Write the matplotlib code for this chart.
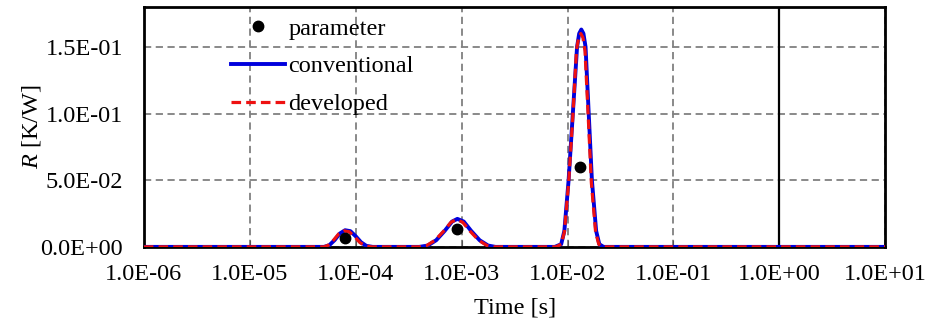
# Thermal resistance spectrum: parameter points vs conventional / developed curves

import matplotlib
matplotlib.use("Agg")
import matplotlib.pyplot as plt
from matplotlib.ticker import FuncFormatter, FixedLocator, NullLocator
import numpy as np

# --- data (time as log10 seconds) ---
param_logt = [-4.10, -3.044, -1.883]
param_R = [0.0067, 0.0135, 0.060]

conv_logt = [-6.0,
             -4.30, -4.25, -4.20, -4.15, -4.10, -4.05, -4.00, -3.95, -3.90, -3.84,
             -3.40, -3.32, -3.24, -3.16, -3.09, -3.04, -2.98, -2.91, -2.83, -2.75, -2.68,
             -2.12, -2.06, -2.03, -1.99, -1.95, -1.91, -1.89, -1.87, -1.85, -1.83,
             -1.80, -1.77, -1.73, -1.70, -1.66,
             1.0]
conv_R = [0.0,
          0.0, 0.0012, 0.005, 0.010, 0.0125, 0.0118, 0.008, 0.0035, 0.0008, 0.0,
          0.0, 0.001, 0.005, 0.012, 0.019, 0.021, 0.019, 0.012, 0.005, 0.001, 0.0,
          0.0, 0.002, 0.012, 0.050, 0.100, 0.150, 0.160, 0.163, 0.160, 0.150,
          0.100, 0.050, 0.012, 0.002, 0.0,
          0.0]

dev_logt = [-6.0,
            -4.30, -4.26, -4.21, -4.16, -4.11, -4.06, -4.01, -3.96, -3.91, -3.85,
            -3.40, -3.33, -3.25, -3.17, -3.10, -3.05, -2.99, -2.92, -2.84, -2.76, -2.69,
            -2.11, -2.06, -2.03, -1.99, -1.95, -1.915, -1.895, -1.875, -1.855, -1.835,
            -1.805, -1.775, -1.735, -1.705, -1.67,
            1.0]
dev_R = [0.0,
         0.0, 0.0012, 0.005, 0.0098, 0.0120, 0.0113, 0.0076, 0.0032, 0.0008, 0.0,
         0.0, 0.001, 0.005, 0.0118, 0.0185, 0.0205, 0.0185, 0.0118, 0.005, 0.001, 0.0,
         0.0, 0.002, 0.011, 0.048, 0.098, 0.148, 0.157, 0.160, 0.157, 0.147,
         0.098, 0.048, 0.011, 0.002, 0.0,
         0.0]

x_ticks = [1e-6, 1e-5, 1e-4, 1e-3, 1e-2, 1e-1, 1e0, 1e1]
y_ticks = [0.0, 0.05, 0.10, 0.15]

plt.rcParams["font.family"] = ["Liberation Serif", "DejaVu Serif"]
plt.rcParams["mathtext.fontset"] = "custom"
plt.rcParams["mathtext.it"] = "Liberation Serif:italic"
plt.rcParams["mathtext.rm"] = "Liberation Serif"

fig = plt.figure(figsize=(9.28, 3.27), dpi=100)
ax = fig.add_axes([0.155, 0.245, 0.799, 0.734])

ax.set_xscale("log")
ax.set_xlim(1e-6, 1e1)
ax.set_ylim(0, 0.18)

# grid + y axis crossing at 1 s
ax.xaxis.set_major_locator(FixedLocator(x_ticks))
ax.xaxis.set_minor_locator(NullLocator())
ax.yaxis.set_major_locator(FixedLocator(y_ticks))
ax.grid(True, which="major", linestyle=(0, (4, 2.5)), color="#808080", linewidth=1.3)
ax.axvline(1.0, color="black", linewidth=1.6, zorder=2)

ax.plot(10 ** np.array(conv_logt), conv_R, color="#0000dd", linewidth=2.8,
        label="conventional", zorder=3)
ax.plot(10 ** np.array(dev_logt), dev_R, color="#ee1111", linewidth=2.3,
        linestyle=(0, (3, 1.6)), label="developed", zorder=4)
ax.plot(10 ** np.array(param_logt), param_R, "o", color="black", markersize=7.5,
        linestyle="none", label="parameter", zorder=5)

fmt = FuncFormatter(lambda v, pos: f"{v:.1E}")
ax.xaxis.set_major_formatter(fmt)
ax.yaxis.set_major_formatter(fmt)

ax.tick_params(axis="y", length=0, pad=15, labelsize=17.5)
ax.tick_params(axis="x", direction="in", length=5, color="#555555", pad=12, labelsize=17.5)

for s in ax.spines.values():
    s.set_linewidth(2.0)
    s.set_color("black")

ax.set_xlabel("Time [s]", fontsize=17.5, labelpad=9)
ax.set_ylabel("$R$ [K/W]", fontsize=17.5, labelpad=-2)

h, l = ax.get_legend_handles_labels()
order = [2, 0, 1]
ax.legend([h[i] for i in order], [l[i] for i in order], loc="upper left",
          bbox_to_anchor=(0.118, 0.955), frameon=False, fontsize=17.5,
          handlelength=2.2, handletextpad=0.15, labelspacing=0.65,
          borderpad=0, borderaxespad=0)

fig.savefig("out.png", dpi=100)
